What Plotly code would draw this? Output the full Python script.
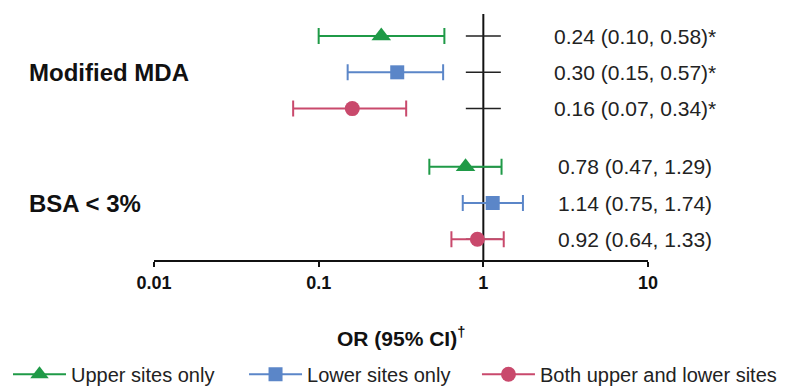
import plotly.graph_objects as go

# ---- data ----
groups = ["Modified MDA", "BSA < 3%"]
series = ["Upper sites only", "Lower sites only", "Both upper and lower sites"]
or_est = {
    "Upper sites only": [0.24, 0.78],
    "Lower sites only": [0.30, 1.14],
    "Both upper and lower sites": [0.16, 0.92],
}
ci_low = {
    "Upper sites only": [0.10, 0.47],
    "Lower sites only": [0.15, 0.75],
    "Both upper and lower sites": [0.07, 0.64],
}
ci_high = {
    "Upper sites only": [0.58, 1.29],
    "Lower sites only": [0.57, 1.74],
    "Both upper and lower sites": [0.34, 1.33],
}
stars = {
    "Upper sites only": ["*", ""],
    "Lower sites only": ["*", ""],
    "Both upper and lower sites": ["*", ""],
}
# row position of each series within group (row units), and group offsets
group_offset = [0.0, 3.6]
series_offset = [0.0, 1.0, 2.0]
tick_vals = [0.01, 0.1, 1, 10]
tick_text = ["0.01", "0.1", "1", "10"]
ref_value = 1

colors = {
    "Upper sites only": "#1f9a47",
    "Lower sites only": "#5b86c8",
    "Both upper and lower sites": "#c9496c",
}
symbols = {
    "Upper sites only": "triangle-up",
    "Lower sites only": "square",
    "Both upper and lower sites": "circle",
}
msize = {
    "Upper sites only": 17,
    "Lower sites only": 14,
    "Both upper and lower sites": 15,
}
legend_ids = ["legend", "legend2", "legend3"]
legend_x = [0.0, 0.303, 0.602]   # container fractions of each legend entry

FONT = "Liberation Sans, Arial, Helvetica, sans-serif"

fig = go.Figure()

# small horizontal ticks on the reference line at each row
all_rows = [g + s for g in group_offset for s in series_offset]
fig.add_trace(go.Scatter(
    x=[ref_value] * len(all_rows), y=all_rows, mode="markers",
    marker=dict(symbol="line-ew", size=25, line=dict(width=1.5, color="#222")),
    showlegend=False, hoverinfo="skip"))

for i, s in enumerate(series):
    ys = [g + series_offset[i] for g in group_offset]
    est = or_est[s]
    plus = [h - e for h, e in zip(ci_high[s], est)]
    minus = [e - l for e, l in zip(est, ci_low[s])]
    fig.add_trace(go.Scatter(
        x=est, y=ys, mode="markers", showlegend=False,
        marker=dict(symbol=symbols[s], size=msize[s], color=colors[s]),
        error_x=dict(type="data", symmetric=False, array=plus, arrayminus=minus,
                     color=colors[s], thickness=2, width=8),
        name=s))
    # legend entry
    fig.add_trace(go.Scatter(
        x=[None], y=[None], mode="lines+markers", name=s, legend=legend_ids[i],
        line=dict(color=colors[s], width=2),
        marker=dict(symbol=symbols[s], size=msize[s], color=colors[s])))
    # right-side labels
    for j, y in enumerate(ys):
        txt = f"{est[j]:.2f} ({ci_low[s][j]:.2f}, {ci_high[s][j]:.2f}){stars[s][j]}"
        fig.add_annotation(x=0.974, xref="paper", y=y, yref="y", text=txt,
                           showarrow=False, xanchor="center", yanchor="middle",
                           font=dict(family=FONT, size=21, color="#222"))

# group labels
for g, name in zip(group_offset, groups):
    fig.add_annotation(x=-0.257, xref="paper", y=g + series_offset[1], yref="y",
                       text=f"<b>{name}</b>", showarrow=False, xanchor="left",
                       yanchor="middle", font=dict(family=FONT, size=24, color="#111"))

# reference line at OR = 1
fig.add_shape(type="line", xref="x", yref="paper", x0=ref_value, x1=ref_value,
              y0=0, y1=1, line=dict(color="#111", width=2), layer="below")

# x-axis title
fig.add_annotation(x=0.5, xref="paper", y=0, yref="paper", yshift=-77,
                   text="<b>OR (95% CI)<sup>†</sup></b>", showarrow=False,
                   xanchor="center", yanchor="middle",
                   font=dict(family=FONT, size=21, color="#111"))

legend_common = dict(orientation="h", xref="container", yref="container",
                     xanchor="left", y=0.036, yanchor="middle", itemwidth=53,
                     font=dict(family=FONT, size=20, color="#222"),
                     bgcolor="rgba(0,0,0,0)")

fig.update_layout(
    width=779, height=380,
    margin=dict(l=146, r=139, t=6, b=128),
    plot_bgcolor="white", paper_bgcolor="white",
    font=dict(family=FONT, color="#111"),
    xaxis=dict(type="log", range=[-2, 1], tickvals=tick_vals,
               ticktext=[f"<b>{t}</b>" for t in tick_text],
               showline=True, linecolor="#111", linewidth=2,
               ticks="outside", ticklen=5, tickwidth=2, tickcolor="#111",
               showgrid=False, zeroline=False,
               tickfont=dict(family=FONT, size=18, color="#111")),
    yaxis=dict(range=[6.17, -0.606], visible=False, showgrid=False, zeroline=False),
    legend=dict(x=legend_x[0], **legend_common),
    legend2=dict(x=legend_x[1], **legend_common),
    legend3=dict(x=legend_x[2], **legend_common),
    showlegend=True,
)

fig.write_html("out.html")
